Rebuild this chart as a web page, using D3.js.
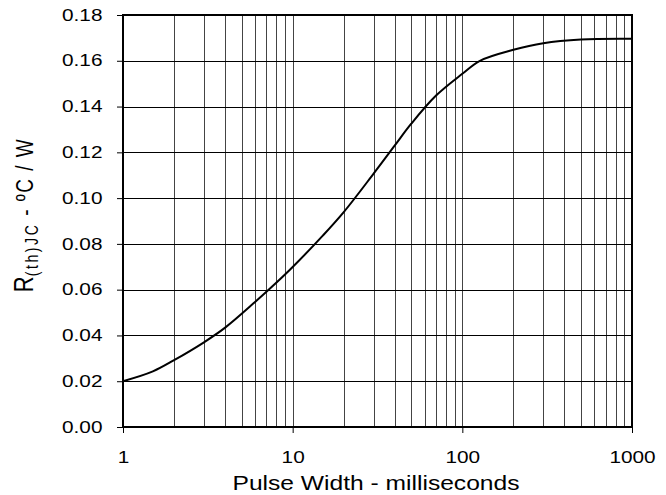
<!DOCTYPE html>
<html>
<head>
<meta charset="utf-8">
<script src="https://cdn.jsdelivr.net/npm/d3@7"></script>
<style>
  html, body { margin: 0; padding: 0; background: #fff; }
  svg { display: block; font-family: "Liberation Sans", Arial, sans-serif; }
</style>
</head>
<body>
<svg id="chart" width="666" height="495"></svg>
<script>
// Data
const pulseWidth = [1, 1.5, 2, 3, 4, 6, 8, 10, 15, 20, 30, 40, 50, 70, 100, 127, 200, 300, 500, 1000];
const rthJC      = [0.020, 0.0243, 0.0292, 0.0370, 0.0434, 0.0546, 0.0630, 0.0699, 0.0835, 0.0939, 0.1107, 0.1230, 0.1325, 0.1448, 0.1543, 0.1600, 0.1648, 0.1677, 0.1693, 0.1696];
const xTicks = [1, 10, 100, 1000];
const yTicks = [0, 0.02, 0.04, 0.06, 0.08, 0.10, 0.12, 0.14, 0.16, 0.18];
const xTitle = "Pulse Width - milliseconds";

const svg = d3.select("#chart");
const L = 123, R = 632, T = 15, B = 427;
const x = d3.scaleLog().domain([1, 1000]).range([L, R]);
const y = d3.scaleLinear().domain([0, 0.18]).range([B, T]);
const SX = 1.3; // horizontal stretch of text in the reference

// minor vertical grid (every 1..9 per decade)
const minor = [];
for (let d = 1; d < 1000; d *= 10) for (let k = 2; k <= 9; k++) minor.push(d * k);
minor.push(10, 100);
svg.append("g").selectAll("line").data(minor).join("line")
  .attr("x1", d => Math.round(x(d)) + 0.5).attr("x2", d => Math.round(x(d)) + 0.5)
  .attr("y1", T).attr("y2", B)
  .attr("stroke", "#444").attr("stroke-width", 1);

// horizontal grid
svg.append("g").selectAll("line").data(yTicks).join("line")
  .attr("x1", L).attr("x2", R)
  .attr("y1", d => Math.round(y(d)) + 0.5).attr("y2", d => Math.round(y(d)) + 0.5)
  .attr("stroke", "#000").attr("stroke-width", 1);

// y axis
const yAxis = d3.axisLeft(y).tickValues(yTicks).tickSize(6).tickFormat(d3.format(".2f"));
const gy = svg.append("g").attr("transform", `translate(${L},0)`).call(yAxis);
gy.select(".domain").remove();
gy.selectAll(".tick line").attr("stroke", "#000");
gy.selectAll(".tick text").attr("font-size", 16).attr("fill", "#000")
  .attr("font-family", "Liberation Sans, Arial, sans-serif")
  .attr("x", 0).attr("transform", `translate(-20.5,0) scale(${SX},1)`);

// x axis
const xAxis = d3.axisBottom(x).tickValues(xTicks).tickSize(6).tickFormat(d3.format("d"));
const gx = svg.append("g").attr("transform", `translate(0,${B})`).call(xAxis);
gx.select(".domain").remove();
gx.selectAll(".tick line").attr("stroke", "#000");
gx.selectAll(".tick text").attr("font-size", 16).attr("fill", "#000")
  .attr("font-family", "Liberation Sans, Arial, sans-serif")
  .attr("y", 0).attr("dy", "0.71em")
  .attr("transform", `translate(0,25) scale(${SX},1)`);

// plot frame
svg.append("rect").attr("x", L).attr("y", T).attr("width", R - L).attr("height", B - T)
  .attr("fill", "none").attr("stroke", "#000").attr("stroke-width", 2);

// curve
const pts = pulseWidth.map((p, i) => [p, rthJC[i]]);
svg.append("path").datum(pts)
  .attr("d", d3.line().x(d => x(d[0])).y(d => y(d[1])).curve(d3.curveCatmullRom.alpha(0.5)))
  .attr("fill", "none").attr("stroke", "#000").attr("stroke-width", 2);

// x title
svg.append("text").attr("transform", `translate(376,490) scale(1.23,1)`)
  .attr("text-anchor", "middle").attr("font-size", 20)
  .text(xTitle);

// y title
const yt = svg.append("text").attr("transform", `translate(33,215) rotate(-90) scale(1,1.25)`)
  .attr("text-anchor", "middle");
yt.append("tspan").attr("font-size", 22).text("R");
yt.append("tspan").attr("font-size", 14).attr("letter-spacing", 2.6).attr("dy", 4).text("(th)JC");
yt.append("tspan").attr("font-size", 19).attr("dy", -4).attr("letter-spacing", 1.5).text(" - ºC / W");
</script>
</body>
</html>
